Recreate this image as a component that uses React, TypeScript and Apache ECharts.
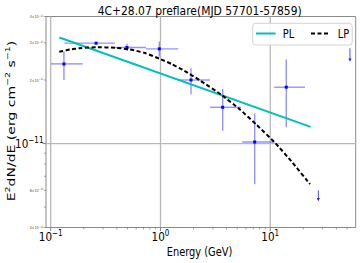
import React, { useEffect, useRef } from 'react';
import * as echarts from 'echarts';

const TITLE = '4C+28.07 preflare(MJD 57701-57859)';
const X_NAME = 'Energy (GeV)';

// Axis ranges
const xRange = [0.0906, 60];
const yRange = [4e-12, 4e-11];

// SED data points (GeV, erg cm^-2 s^-1)
const energy = [0.132, 0.259, 0.495, 0.975, 1.896, 3.686, 7.21, 13.99];
const energyLow = [0.101, 0.133, 0.385, 0.738, 1.452, 2.824, 5.56, 10.87];
const energyHigh = [0.196, 0.385, 0.738, 1.452, 2.824, 5.41, 10.87, 20.7];
const flux = [2.385e-11, 2.99e-11, 2.85e-11, 2.81e-11, 2.0e-11, 1.485e-11, 1.017e-11, 1.849e-11];
const fluxLow = [2.0e-11, 2.95e-11, 2.75e-11, 2.584e-11, 1.713e-11, 1.15e-11, 0.642e-11, 1.194e-11];
const fluxHigh = [2.73e-11, 3.03e-11, 2.968e-11, 3.044e-11, 2.275e-11, 1.815e-11, 1.391e-11, 2.505e-11];

// Upper limits
const ulEnergy = [27.4, 53.2];
const ulFlux = [6.0e-12, 2.83e-11];
const ulArrowTo = [5.33e-12, 2.44e-11];

// Power-law model (PL)
const plEnergy = [0.12, 23.3];
const plFlux = [3.18e-11, 1.2e-11];

// Log-parabola model (LP)
const lpEnergy = [0.1197, 0.15, 0.185, 0.259, 0.385, 0.527, 0.722, 0.975, 1.273, 1.647, 2.289, 3.609, 5.3, 7.565, 11.03, 15.76, 23.0];
const lpFlux = [2.72e-11, 2.79e-11, 2.831e-11, 2.862e-11, 2.844e-11, 2.793e-11, 2.685e-11, 2.526e-11, 2.377e-11, 2.213e-11, 1.991e-11, 1.698e-11, 1.449e-11, 1.222e-11, 1.009e-11, 8.18e-12, 6.42e-12];

// Ticks
const xMajorTicks = [0.1, 1, 10];
const xMajorExp = ['−1', '0', '1'];
const xMinorTicks = [0.2, 0.3, 0.4, 0.5, 0.6, 0.7, 0.8, 0.9, 2, 3, 4, 5, 6, 7, 8, 9, 20, 30, 40, 50];
const yMajorTicks = [1e-11];
const yMajorExp = ['−11'];
const yMinorTicks = [4e-12, 5e-12, 6e-12, 7e-12, 8e-12, 9e-12, 2e-11, 3e-11, 4e-11];
const yMinorLabelValues = [4e-11, 3e-11, 2e-11, 6e-12, 4e-12];
const yMinorLabelMant = ['4', '3', '2', '6', '4'];
const yMinorLabelExp = ['−11', '−11', '−11', '−12', '−12'];

const FONT = 'DejaVu Sans';
const SQ = 0.8;
const GRID_COLOR = '#b8b8b8';
const TICK_COLOR = '#666';
const ERR_COLOR = 'rgba(40,40,255,0.5)';

export default function App() {
  const ref = useRef<HTMLDivElement>(null);
  useEffect(() => {
    if (!ref.current) return;
    const chart = echarts.init(ref.current, undefined, { renderer: 'svg' });

    const pointData = energy.map((e, i) => [e, flux[i], energyLow[i], energyHigh[i], fluxLow[i], fluxHigh[i]]);
    const ulData = ulEnergy.map((e, i) => [e, ulFlux[i], ulArrowTo[i]]);

    const option: any = {
      animation: false,
      grid: { left: 46, top: 16.5, width: 309.7, height: 211, show: true, borderColor: '#8a8a8a', borderWidth: 1, backgroundColor: 'transparent' },
      xAxis: {
        type: 'log', logBase: 10, min: xRange[0], max: xRange[1],
        axisLine: { show: false }, axisTick: { show: false }, axisLabel: { show: false }, splitLine: { show: false },
      },
      yAxis: {
        type: 'log', logBase: 10, min: yRange[0], max: yRange[1],
        axisLine: { show: false }, axisTick: { show: false }, axisLabel: { show: false }, splitLine: { show: false },
      },
      series: [
        {
          type: 'custom', name: 'xMajor', silent: true, z: 1,
          data: xMajorTicks.map((v, i) => [v, yRange[0], i]),
          renderItem: (params: any, api: any) => {
            const v = api.value(0);
            const i = api.value(2);
            const p0 = api.coord([v, yRange[0]]);
            const p1 = api.coord([v, yRange[1]]);
            return {
              type: 'group', children: [
                { type: 'line', shape: { x1: p0[0], y1: p0[1], x2: p1[0], y2: p1[1] }, style: { stroke: GRID_COLOR, lineWidth: 1.3 } },
                { type: 'line', shape: { x1: p0[0], y1: p0[1], x2: p0[0], y2: p0[1] + 3.5 }, style: { stroke: TICK_COLOR, lineWidth: 0.8 } },
                {
                  type: 'text', x: p0[0], y: p0[1] + 8.5, scaleX: SQ,
                  style: {
                    text: `{b|10}{s|${xMajorExp[i]}}`, align: 'center', verticalAlign: 'middle', fill: '#000',
                    rich: {
                      b: { fontFamily: FONT, fontSize: 13, lineHeight: 15, verticalAlign: 'bottom', fill: '#000' },
                      s: { fontFamily: FONT, fontSize: 9, lineHeight: 15, verticalAlign: 'top', fill: '#000' },
                    },
                  },
                },
              ],
            };
          },
        },
        {
          type: 'custom', name: 'xMinor', silent: true, z: 1,
          data: xMinorTicks.map((v) => [v, yRange[0]]),
          renderItem: (params: any, api: any) => {
            const p0 = api.coord([api.value(0), yRange[0]]);
            return { type: 'line', shape: { x1: p0[0], y1: p0[1], x2: p0[0], y2: p0[1] + 2 }, style: { stroke: TICK_COLOR, lineWidth: 0.6 } };
          },
        },
        {
          type: 'custom', name: 'yMajor', silent: true, z: 1,
          data: yMajorTicks.map((v, i) => [xRange[0], v, i]),
          renderItem: (params: any, api: any) => {
            const v = api.value(1);
            const i = api.value(2);
            const p0 = api.coord([xRange[0], v]);
            const p1 = api.coord([xRange[1], v]);
            return {
              type: 'group', children: [
                { type: 'line', shape: { x1: p0[0], y1: p0[1], x2: p1[0], y2: p1[1] }, style: { stroke: GRID_COLOR, lineWidth: 1.3 } },
                { type: 'line', shape: { x1: p0[0] - 3.5, y1: p0[1], x2: p0[0], y2: p0[1] }, style: { stroke: TICK_COLOR, lineWidth: 0.8 } },
                {
                  type: 'text', x: p0[0] - 2.5, y: p0[1] - 1, scaleX: SQ,
                  style: {
                    text: `{b|10}{s|${yMajorExp[i]}}`, align: 'right', verticalAlign: 'middle', fill: '#000',
                    rich: {
                      b: { fontFamily: FONT, fontSize: 13, lineHeight: 15, verticalAlign: 'bottom', fill: '#000' },
                      s: { fontFamily: FONT, fontSize: 9, lineHeight: 15, verticalAlign: 'top', fill: '#000' },
                    },
                  },
                },
              ],
            };
          },
        },
        {
          type: 'custom', name: 'yMinor', silent: true, z: 1,
          data: yMinorTicks.map((v) => [xRange[0], v]),
          renderItem: (params: any, api: any) => {
            const p0 = api.coord([xRange[0], api.value(1)]);
            return { type: 'line', shape: { x1: p0[0] - 2, y1: p0[1], x2: p0[0], y2: p0[1] }, style: { stroke: TICK_COLOR, lineWidth: 0.6 } };
          },
        },
        {
          type: 'custom', name: 'yMinorLabels', silent: true, z: 1,
          data: yMinorLabelValues.map((v, i) => [xRange[0], v, i]),
          renderItem: (params: any, api: any) => {
            const i = api.value(2);
            const p0 = api.coord([xRange[0], api.value(1)]);
            return {
              type: 'text', x: p0[0] - 2.5, y: p0[1], scaleX: SQ,
              style: {
                text: `{b|${yMinorLabelMant[i]}×10}{s|${yMinorLabelExp[i]}}`, align: 'right', verticalAlign: 'middle', fill: '#333',
                rich: {
                  b: { fontFamily: FONT, fontSize: 4, lineHeight: 5, verticalAlign: 'bottom', fill: '#444' },
                  s: { fontFamily: FONT, fontSize: 3, lineHeight: 5, verticalAlign: 'top', fill: '#444' },
                },
              },
            };
          },
        },
        {
          type: 'custom', name: 'points', z: 3,
          data: pointData,
          encode: { x: 0, y: 1 },
          renderItem: (params: any, api: any) => {
            const x = api.value(0), y = api.value(1);
            const c = api.coord([x, y]);
            const l = api.coord([api.value(2), y]);
            const r = api.coord([api.value(3), y]);
            const b = api.coord([x, api.value(4)]);
            const t = api.coord([x, api.value(5)]);
            return {
              type: 'group', children: [
                { type: 'line', shape: { x1: l[0], y1: l[1], x2: r[0], y2: r[1] }, style: { stroke: ERR_COLOR, lineWidth: 1.4 } },
                { type: 'line', shape: { x1: b[0], y1: b[1], x2: t[0], y2: t[1] }, style: { stroke: ERR_COLOR, lineWidth: 1.4 } },
                { type: 'rect', shape: { x: c[0] - 1.5, y: c[1] - 1.5, width: 3, height: 3 }, style: { fill: '#0000ff' } },
              ],
            };
          },
        },
        {
          type: 'custom', name: 'ul', z: 3,
          data: ulData,
          encode: { x: 0, y: 1 },
          renderItem: (params: any, api: any) => {
            const x = api.value(0);
            const top = api.coord([x, api.value(1)]);
            const bot = api.coord([x, api.value(2)]);
            return {
              type: 'group', children: [
                { type: 'line', shape: { x1: top[0], y1: top[1], x2: bot[0], y2: bot[1] - 2 }, style: { stroke: 'rgba(30,30,255,0.8)', lineWidth: 1 } },
                { type: 'polygon', shape: { points: [[bot[0] - 1.6, bot[1] - 3.2], [bot[0] + 1.6, bot[1] - 3.2], [bot[0], bot[1]]] }, style: { fill: '#2020ff' } },
              ],
            };
          },
        },
        {
          type: 'line', name: 'PL', z: 4, symbol: 'none', silent: true,
          data: plEnergy.map((e, i) => [e, plFlux[i]]),
          lineStyle: { color: '#00bfbf', width: 2 },
        },
        {
          type: 'line', name: 'LP', z: 5, symbol: 'none', silent: true, smooth: 0.15,
          data: lpEnergy.map((e, i) => [e, lpFlux[i]]),
          lineStyle: { color: '#000', width: 2, type: [4, 2.5] },
        },
      ],
      graphic: [
        {
          type: 'text', x: 199.7, y: 10.5, scaleX: 0.84, z: 100,
          style: { text: TITLE, fontFamily: FONT, fontSize: 12.8, fill: '#000', align: 'center', verticalAlign: 'middle' },
        },
        {
          type: 'text', x: 199.5, y: 252.5, scaleX: SQ, z: 100,
          style: { text: X_NAME, fontFamily: FONT, fontSize: 12.3, fill: '#000', align: 'center', verticalAlign: 'middle' },
        },
        {
          type: 'text', x: 10, y: 121, rotation: Math.PI / 2, scaleY: 0.78, z: 100,
          style: {
            text: '{n|E}{s|2}{n|dN/dE (erg cm}{s|−2}{n| s}{s|−1}{n|)}', align: 'center', verticalAlign: 'middle', fill: '#000',
            rich: {
              n: { fontFamily: FONT, fontSize: 14, lineHeight: 16, verticalAlign: 'bottom', fill: '#000' },
              s: { fontFamily: FONT, fontSize: 9.5, lineHeight: 16, verticalAlign: 'top', fill: '#000' },
            },
          },
        },
        {
          type: 'rect', z: 100, shape: { x: 252.7, y: 23.3, width: 99.5, height: 21.7, r: 3 },
          style: { fill: 'rgba(255,255,255,0.85)', stroke: '#d3d3d3', lineWidth: 1 },
        },
        { type: 'line', z: 101, shape: { x1: 256, y1: 33.5, x2: 275.7, y2: 33.5 }, style: { stroke: '#00bfbf', lineWidth: 2 } },
        {
          type: 'text', z: 101, x: 282.7, y: 34, scaleX: SQ,
          style: { text: 'PL', fontFamily: FONT, fontSize: 12.3, fill: '#000', align: 'left', verticalAlign: 'middle' },
        },
        { type: 'line', z: 101, shape: { x1: 311, y1: 33.5, x2: 330, y2: 33.5 }, style: { stroke: '#000', lineWidth: 2, lineDash: [4, 2.5] } },
        {
          type: 'text', z: 101, x: 337.7, y: 34, scaleX: SQ,
          style: { text: 'LP', fontFamily: FONT, fontSize: 12.3, fill: '#000', align: 'left', verticalAlign: 'middle' },
        },
      ],
    };
    chart.setOption(option);
    return () => chart.dispose();
  }, []);
  return <div ref={ref} style={{ position: 'fixed', left: 0, top: 0, width: 360, height: 263, background: '#fff' }} />;
}
